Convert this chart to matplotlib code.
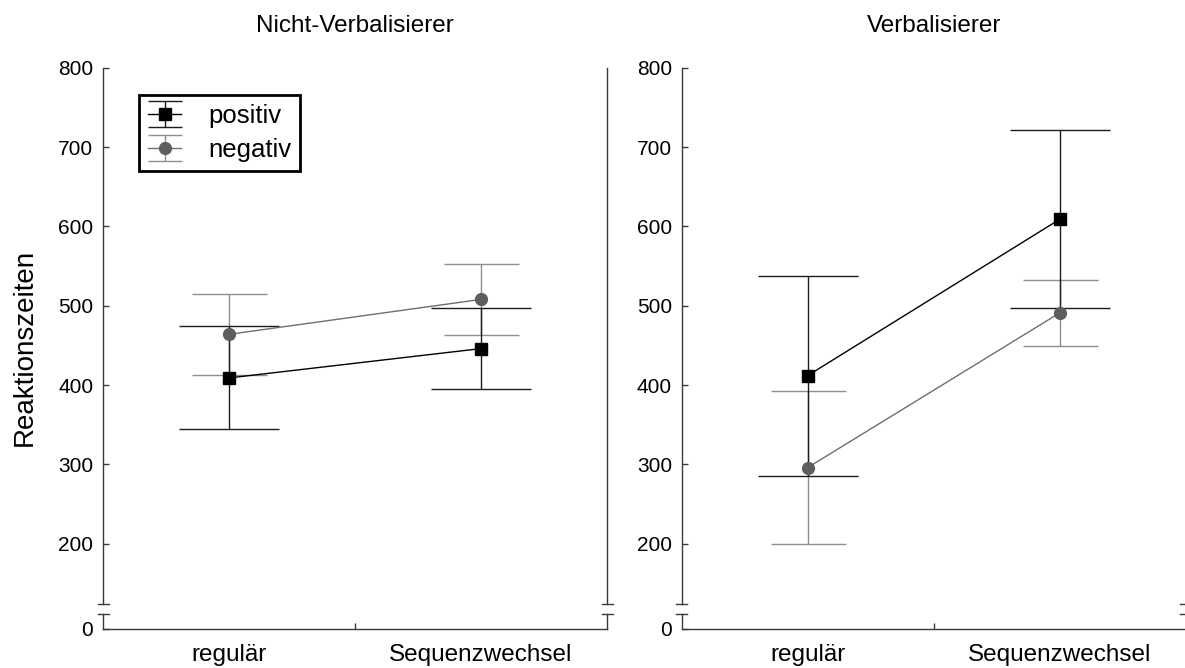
import numpy as np
import matplotlib
matplotlib.use("Agg")
import matplotlib.pyplot as plt
from matplotlib.lines import Line2D
from matplotlib.container import ErrorbarContainer
from matplotlib.legend_handler import HandlerErrorbar

# ---- data -------------------------------------------------------------------
conditions = ["regulär", "Sequenzwechsel"]
panel_titles = ["Nicht-Verbalisierer", "Verbalisierer"]
series_labels = ["positiv", "negativ"]

nv_pos = [409, 446]
nv_pos_err = [65, 51]
nv_neg = [464, 508]
nv_neg_err = [51, 45]

vb_pos = [412, 609]
vb_pos_err = [126, 112]
vb_neg = [296, 491]
vb_neg_err = [96, 42]

y_ticks = [200, 300, 400, 500, 600, 700, 800]

# ---- style -------------------------------------------------------------------
SPINE = "#3a3a3a"
POS = "#000000"; POS_ERR = "#1c1c1c"
NEG_LINE = "#6e6e6e"; NEG_MARK = "#5e5e5e"; NEG_ERR = "#8e8e8e"

plt.rcParams.update({
    "font.family": ["Liberation Sans", "DejaVu Sans"],
    "axes.edgecolor": SPINE, "axes.linewidth": 1.0,
    "xtick.color": SPINE, "ytick.color": SPINE,
    "xtick.labelcolor": "black", "ytick.labelcolor": "black",
})

W, H = 1185, 668
fig = plt.figure(figsize=(W / 100, H / 100), dpi=100)


def px_axes(x0, y_top, y_bot, w=504):
    return fig.add_axes([x0 / W, 1 - y_bot / H, w / W, (y_bot - y_top) / H])


def cap_update(lh, oh):
    lh.update_from(oh)
    if isinstance(lh, Line2D) and oh.get_marker() == "_":
        lh.set_markersize(24)


panels = [
    (panel_titles[0], nv_pos, nv_pos_err, nv_neg, nv_neg_err, 103),
    (panel_titles[1], vb_pos, vb_pos_err, vb_neg, vb_neg_err, 681.7),
]
x = np.arange(len(conditions))
d = 5.5 / 504

for i, (title, pm, pe, nm, ne, x0) in enumerate(panels):
    top = px_axes(x0, 67.8, 604)
    bot = px_axes(x0, 614, 629)

    top.errorbar(x, pm, yerr=pe, color=POS, lw=1.0, ecolor=POS_ERR, elinewidth=1.0,
                 capsize=36, capthick=1.0, marker="s", ms=8, mfc=POS, mec=POS,
                 label=series_labels[0], zorder=3)
    neg = top.errorbar(x, nm, yerr=ne, color=NEG_LINE, lw=1.0, ecolor=NEG_ERR, elinewidth=1.0,
                       capsize=27, capthick=1.0, marker="o", ms=8.5, mfc=NEG_MARK, mec=NEG_MARK,
                       label=series_labels[1], zorder=2)
    # grey whiskers sit under the black ones, grey markers sit on top
    neg.lines[0].set_zorder(5)

    top.set_xlim(-0.5, 1.5); top.set_ylim(124, 800)
    top.set_yticks(y_ticks)
    top.set_xticks([])
    top.spines[["top", "bottom"]].set_visible(False)
    top.tick_params(axis="y", direction="in", length=4, width=1, labelsize=15, pad=7)
    top.set_title(title, fontsize=17.5, pad=25.5)

    bot.set_xlim(-0.5, 1.5); bot.set_ylim(0, 18.9)
    bot.spines["top"].set_visible(False)
    bot.set_yticks([0])
    bot.tick_params(axis="y", direction="in", length=4, width=1, labelsize=15, pad=7)
    bot.set_xticks([0.5], [""])
    bot.set_xticks(x, conditions, minor=True)
    bot.tick_params(axis="x", which="major", direction="in", length=4.3, width=1)
    bot.tick_params(axis="x", which="minor", length=0, labelsize=17.5, pad=11)

    # axis-break caps
    for xx in (0, 1):
        top.plot([xx - d, xx + d], [0, 0], transform=top.transAxes, clip_on=False,
                 color=SPINE, lw=1.0)
        bot.plot([xx - d, xx + d], [1, 1], transform=bot.transAxes, clip_on=False,
                 color=SPINE, lw=1.0)

    if i == 0:
        leg = top.legend(loc="upper left", bbox_to_anchor=(0.0714, 0.9493), borderaxespad=0,
                         fontsize=18.5, handlelength=1.3, handletextpad=1.05, borderpad=0.35,
                         labelspacing=0.4, fancybox=False, framealpha=1, edgecolor="black",
                         handler_map={ErrorbarContainer: HandlerErrorbar(update_func=cap_update)})
        leg.get_frame().set_linewidth(2)

fig.text(25 / W, 1 - 347 / H, "Reaktionszeiten", rotation=90, fontsize=20,
         ha="center", va="center")

fig.savefig("out.png", dpi=100)
